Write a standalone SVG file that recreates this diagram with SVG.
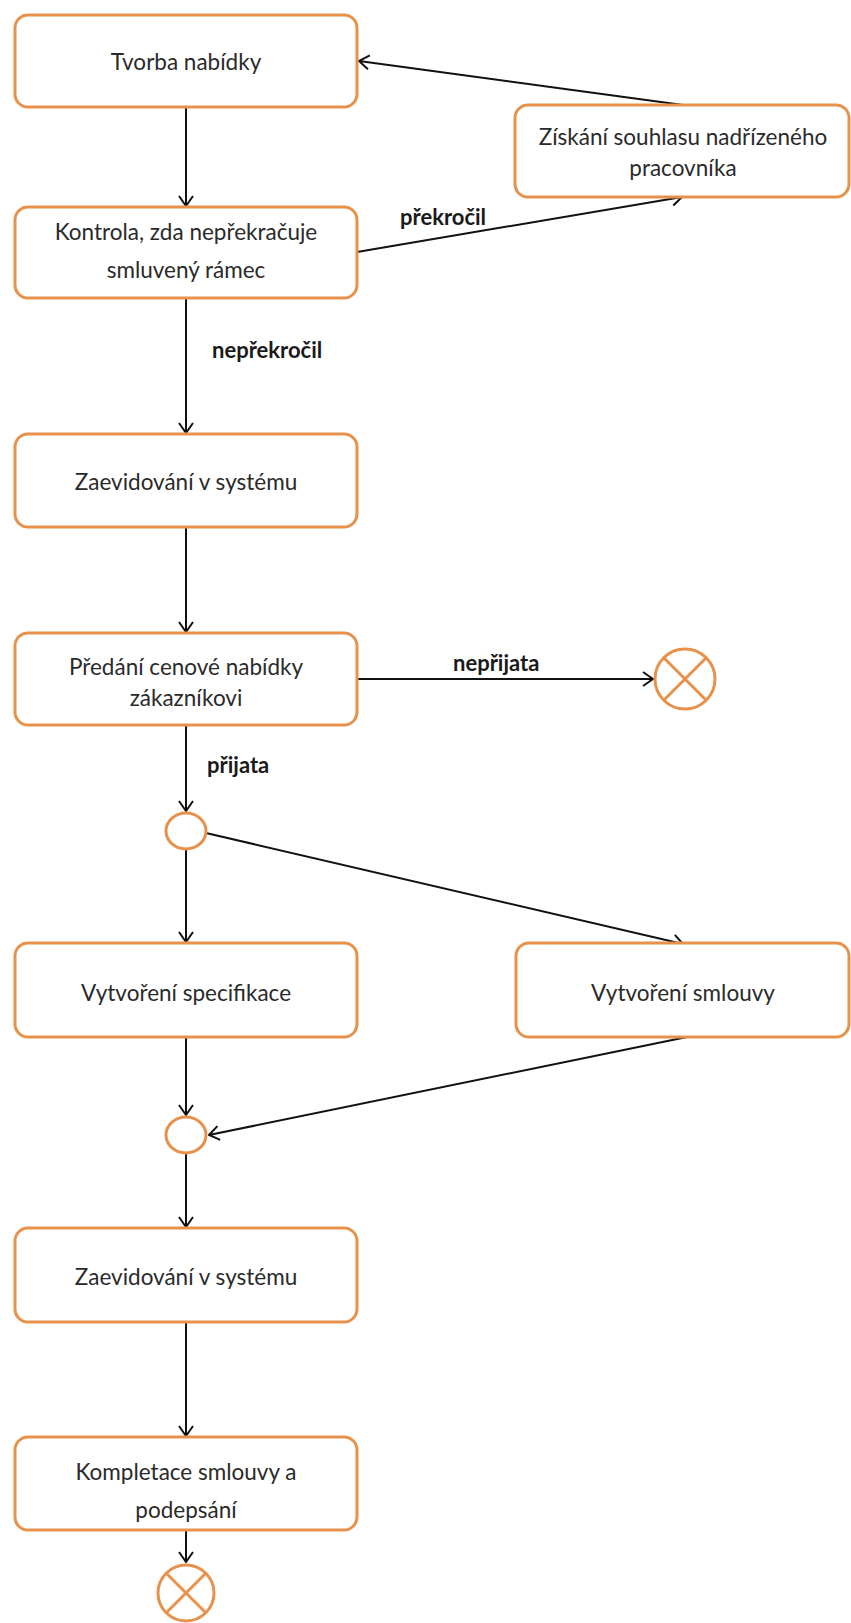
<svg xmlns="http://www.w3.org/2000/svg" width="851" height="1623" viewBox="0 0 851 1623">
<defs>
<marker id="arr" viewBox="0 0 12 16" refX="11" refY="8" markerWidth="12" markerHeight="16" markerUnits="userSpaceOnUse" orient="auto">
<path d="M1,1 L11,8 L1,15" fill="none" stroke="#111" stroke-width="2"/>
</marker>
<style>
.box{fill:#fff;stroke:#E8914A;stroke-width:3}
.t{font-family:Lato,"Open Sans",sans-serif;font-size:22.5px;fill:#2a2a2a;text-anchor:middle}
.lbl{font-family:Lato,"Open Sans",sans-serif;font-size:22px;font-weight:bold;fill:#1a1a1a}
.c{fill:none;stroke:#111;stroke-width:2;marker-end:url(#arr)}
.end{fill:#fff;stroke:#E8914A;stroke-width:3}
.x{stroke:#E8914A;stroke-width:3}
</style>
</defs>
<rect width="851" height="1623" fill="#fff"/>
<g id="connectors">
<line class="c" x1="186" y1="107" x2="186" y2="206"/>
<line class="c" x1="683" y1="105" x2="359" y2="61"/>
<line class="c" x1="357" y1="252" x2="682" y2="197"/>
<line class="c" x1="186" y1="298" x2="186" y2="433"/>
<line class="c" x1="186" y1="527" x2="186" y2="632"/>
<line class="c" x1="357" y1="679" x2="653" y2="679"/>
<line class="c" x1="186" y1="725" x2="186" y2="811"/>
<line class="c" x1="186" y1="850" x2="186" y2="942"/>
<line class="c" x1="206" y1="833" x2="683" y2="944"/>
<line class="c" x1="186" y1="1037" x2="186" y2="1115"/>
<line class="c" x1="687" y1="1037" x2="209" y2="1135"/>
<line class="c" x1="186" y1="1154" x2="186" y2="1227"/>
<line class="c" x1="186" y1="1322" x2="186" y2="1436"/>
<line class="c" x1="186" y1="1530" x2="186" y2="1562"/>
<text class="lbl" x="400" y="225">překročil</text>
<text class="lbl" x="212" y="358">nepřekročil</text>
<text class="lbl" x="453" y="671">nepřijata</text>
<text class="lbl" x="207" y="773">přijata</text>
</g>
<g id="n1"><rect class="box" x="15" y="15" width="342" height="92" rx="13"/><text class="t" x="186" y="70">Tvorba nabídky</text></g>
<g id="n2"><rect class="box" x="515" y="105" width="334" height="92" rx="13"/><text class="t" x="683" y="145">Získání souhlasu nadřízeného</text><text class="t" x="683" y="176">pracovníka</text></g>
<g id="n3"><rect class="box" x="15" y="207" width="342" height="91" rx="13"/><text class="t" x="186" y="240">Kontrola, zda nepřekračuje</text><text class="t" x="186" y="278">smluvený rámec</text></g>
<g id="n4"><rect class="box" x="15" y="434" width="342" height="93" rx="13"/><text class="t" x="186" y="490">Zaevidování v systému</text></g>
<g id="n5"><rect class="box" x="15" y="633" width="342" height="92" rx="13"/><text class="t" x="186" y="675">Předání cenové nabídky</text><text class="t" x="186" y="706">zákazníkovi</text></g>
<g id="end1"><circle class="end" cx="685" cy="679" r="30"/><line class="x" x1="664" y1="658" x2="706" y2="700"/><line class="x" x1="706" y1="658" x2="664" y2="700"/></g>
<g id="fork"><ellipse class="end" cx="186" cy="831" rx="20" ry="18"/></g>
<g id="n6"><rect class="box" x="15" y="943" width="342" height="94" rx="13"/><text class="t" x="186" y="1001">Vytvoření specifikace</text></g>
<g id="n7"><rect class="box" x="516" y="943" width="333" height="94" rx="13"/><text class="t" x="683" y="1001">Vytvoření smlouvy</text></g>
<g id="join"><ellipse class="end" cx="186" cy="1135" rx="20" ry="18"/></g>
<g id="n8"><rect class="box" x="15" y="1228" width="342" height="94" rx="13"/><text class="t" x="186" y="1285">Zaevidování v systému</text></g>
<g id="n9"><rect class="box" x="15" y="1437" width="342" height="93" rx="13"/><text class="t" x="186" y="1480">Kompletace smlouvy a</text><text class="t" x="186" y="1518">podepsání</text></g>
<g id="end2"><circle class="end" cx="186" cy="1593" r="28"/><line class="x" x1="166" y1="1573" x2="206" y2="1613"/><line class="x" x1="206" y1="1573" x2="166" y2="1613"/></g>
</svg>
